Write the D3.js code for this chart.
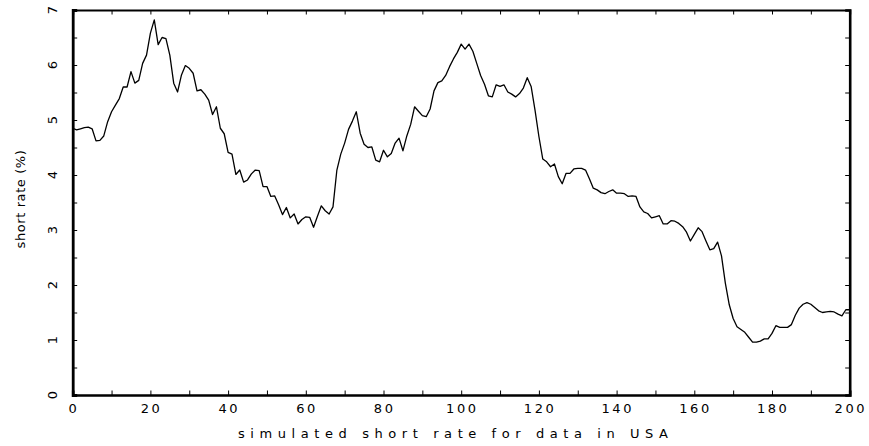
<!DOCTYPE html>
<html>
<head>
<meta charset="utf-8">
<script src="https://cdn.jsdelivr.net/npm/d3@7"></script>
<style>
  html, body { margin: 0; padding: 0; background: #fff; }
  svg { display: block; }
  .lbl { font-family: "DejaVu Sans", sans-serif; font-weight: normal; fill: #000; }
</style>
</head>
<body>
<svg id="chart" width="869" height="446"></svg>
<script>
// Simulated short rate path (percent), one value per step 0..200
const steps = d3.range(0, 201);
const shortRate = [
  4.85, 4.82, 4.84, 4.86, 4.87, 4.84, 4.62, 4.63, 4.71, 4.97,
  5.15, 5.27, 5.39, 5.60, 5.60, 5.88, 5.67, 5.72, 6.03, 6.18,
  6.58, 6.82, 6.37, 6.50, 6.48, 6.18, 5.67, 5.51, 5.82, 5.99,
  5.94, 5.85, 5.53, 5.55, 5.47, 5.36, 5.10, 5.24, 4.85, 4.75,
  4.41, 4.38, 4.01, 4.09, 3.87, 3.91, 4.02, 4.09, 4.08, 3.79,
  3.79, 3.61, 3.62, 3.46, 3.28, 3.41, 3.22, 3.29, 3.11, 3.19,
  3.24, 3.23, 3.05, 3.25, 3.44, 3.35, 3.29, 3.42, 4.09, 4.38,
  4.58, 4.83, 4.98, 5.15, 4.76, 4.56, 4.50, 4.51, 4.27, 4.24,
  4.45, 4.33, 4.39, 4.58, 4.67, 4.44, 4.71, 4.92, 5.24, 5.16,
  5.08, 5.06, 5.20, 5.53, 5.68, 5.71, 5.81, 5.97, 6.11, 6.23,
  6.38, 6.29, 6.38, 6.25, 6.03, 5.81, 5.65, 5.44, 5.42, 5.64,
  5.61, 5.64, 5.51, 5.47, 5.42, 5.48, 5.58, 5.77, 5.61, 5.18,
  4.70, 4.29, 4.24, 4.15, 4.20, 3.97, 3.84, 4.03, 4.03, 4.11,
  4.12, 4.12, 4.09, 3.93, 3.76, 3.73, 3.68, 3.66, 3.70, 3.73,
  3.67, 3.67, 3.66, 3.61, 3.62, 3.61, 3.42, 3.33, 3.30, 3.22,
  3.24, 3.26, 3.11, 3.11, 3.17, 3.16, 3.12, 3.06, 2.96, 2.80,
  2.92, 3.04, 2.97, 2.80, 2.64, 2.66, 2.78, 2.53, 2.03, 1.64,
  1.39, 1.24, 1.19, 1.14, 1.05, 0.96, 0.96, 0.98, 1.02, 1.02,
  1.12, 1.26, 1.23, 1.23, 1.23, 1.28, 1.45, 1.58, 1.65, 1.68,
  1.65, 1.59, 1.53, 1.50, 1.51, 1.52, 1.51, 1.47, 1.44, 1.55,
  1.55
];
const xTickLabels = [0, 20, 40, 60, 80, 100, 120, 140, 160, 180, 200];
const yTickLabels = [0, 1, 2, 3, 4, 5, 6, 7];
const xTitle = "simulated short rate for data in USA";
const yTitle = "short rate (%)";

const svg = d3.select("#chart");
const plotL = 72.7, plotR = 849.7, plotT = 10, plotB = 395;

const x = d3.scaleLinear().domain([0, 200]).range([plotL, plotR]);
const y = d3.scaleLinear().domain([0, 7]).range([plotB, plotT]);

// inward minor ticks on all four sides
const tickLen = 4.5;
const xMinor = d3.range(0, 201, 10);
const yMinor = d3.range(0, 7.01, 0.5);

const bottomAxis = d3.axisBottom(x).tickValues(xMinor).tickSize(-tickLen).tickFormat("");
const topAxis = d3.axisTop(x).tickValues(xMinor).tickSize(-tickLen).tickFormat("");
const leftAxis = d3.axisLeft(y).tickValues(yMinor).tickSize(-tickLen).tickFormat("");
const rightAxis = d3.axisRight(y).tickValues(yMinor).tickSize(-tickLen).tickFormat("");

function styleAxis(g, w) {
  g.select(".domain").attr("stroke", "#000").attr("stroke-width", w).attr("fill", "none");
  g.selectAll(".tick line").attr("stroke", "#000").attr("stroke-width", 1);
}
svg.append("g").attr("transform", `translate(0,${plotB})`).call(bottomAxis).call(g => styleAxis(g, 2.6));
svg.append("g").attr("transform", `translate(0,${plotT})`).call(topAxis).call(g => styleAxis(g, 2));
svg.append("g").attr("transform", `translate(${plotL},0)`).call(leftAxis).call(g => styleAxis(g, 2.8));
svg.append("g").attr("transform", `translate(${plotR},0)`).call(rightAxis).call(g => styleAxis(g, 2.6));

// x tick labels
svg.append("g").selectAll("text").data(xTickLabels).join("text")
  .attr("class", "lbl")
  .attr("x", d => x(d) + 1.2)
  .attr("y", plotB + 18)
  .attr("text-anchor", "middle")
  .attr("font-size", 13)
  .attr("letter-spacing", 2.6)
  .text(d => d);

// y tick labels, rotated
svg.append("g").selectAll("text").data(yTickLabels).join("text")
  .attr("class", "lbl")
  .attr("transform", d => `translate(57,${y(d)}) rotate(-90)`)
  .attr("text-anchor", "middle")
  .attr("font-size", 13)
  .text(d => d);

// axis titles
svg.append("text").attr("class", "lbl")
  .attr("x", 238).attr("y", 438)
  .attr("font-size", 13)
  .attr("textLength", 430).attr("lengthAdjust", "spacing")
  .text(xTitle);

svg.append("text").attr("class", "lbl")
  .attr("transform", "translate(25,199) rotate(-90)")
  .attr("text-anchor", "middle")
  .attr("font-size", 13)
  .attr("letter-spacing", 0.6)
  .text(yTitle);

// the rate path
const line = d3.line().x((d, i) => x(steps[i])).y(d => y(d));
svg.append("path")
  .datum(shortRate)
  .attr("d", line)
  .attr("fill", "none")
  .attr("stroke", "#000")
  .attr("stroke-width", 1.3)
  .attr("stroke-linejoin", "round");
</script>
</body>
</html>
